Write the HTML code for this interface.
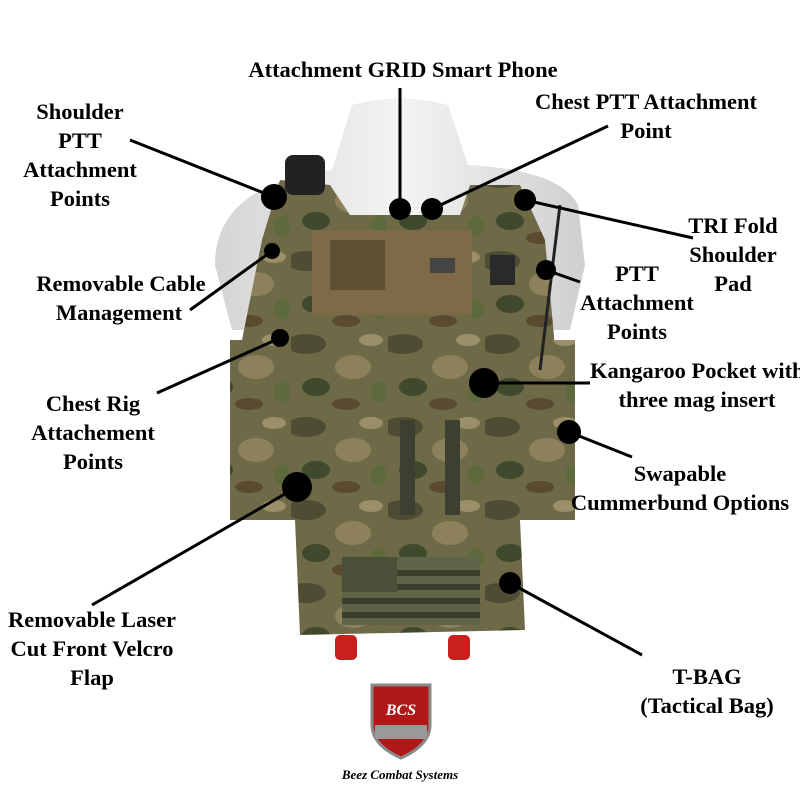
<!DOCTYPE html>
<html><head><meta charset="utf-8"><style>
body{margin:0;background:#fff;}
svg{display:block}
text{font-family:"Liberation Serif",serif;font-weight:bold;font-size:22.5px;fill:#000;text-anchor:middle}
</style></head><body>
<svg width="800" height="800" viewBox="0 0 800 800">
<defs>
<linearGradient id="m" x1="0" x2="1"><stop offset="0" stop-color="#d4d4d4"/><stop offset="0.5" stop-color="#f4f4f4"/><stop offset="1" stop-color="#cfcfcf"/></linearGradient>
<pattern id="camo" width="97" height="83" patternUnits="userSpaceOnUse">
<rect width="97" height="83" fill="#6e6a48"/>
<ellipse cx="15" cy="12" rx="20" ry="10" fill="#4e4c32"/>
<ellipse cx="62" cy="35" rx="18" ry="12" fill="#8c815a"/>
<ellipse cx="25" cy="55" rx="14" ry="9" fill="#3f4a2c"/>
<ellipse cx="80" cy="8" rx="12" ry="6" fill="#9a8f68"/>
<ellipse cx="55" cy="72" rx="14" ry="6" fill="#5a4a30"/>
<ellipse cx="88" cy="60" rx="8" ry="10" fill="#5c6a3c"/>
</pattern>
</defs>
<path d="M352 105 Q400 92 448 105 L468 165 Q560 170 578 205 L585 265 L570 330 L232 330 L215 265 Q215 185 332 170 Z" fill="url(#m)"/>
<path d="M280 180 L330 185 L350 215 L460 215 L470 185 L520 185 L545 240 L560 400 L570 510 L510 520 L300 520 L240 510 L230 400 L262 240 Z" fill="url(#camo)"/>
<rect x="230" y="340" width="345" height="180" fill="url(#camo)"/>
<path d="M295 520 L520 520 L525 630 L300 635 Z" fill="url(#camo)"/>
<rect x="312" y="230" width="160" height="85" fill="#7f6a48"/>
<rect x="330" y="240" width="55" height="50" fill="#5e4f33"/>
<rect x="430" y="258" width="25" height="15" fill="#444"/>
<rect x="342" y="557" width="138" height="68" fill="#5e6448"/>
<g fill="#3a3e2c"><rect x="342" y="570" width="138" height="6"/><rect x="342" y="584" width="138" height="6"/><rect x="342" y="598" width="138" height="6"/><rect x="342" y="612" width="138" height="6"/><rect x="342" y="557" width="55" height="35" fill="#4a5038"/></g>
<rect x="335" y="635" width="22" height="25" rx="5" fill="#c8201c"/>
<rect x="448" y="635" width="22" height="25" rx="5" fill="#c8201c"/>
<rect x="285" y="155" width="40" height="40" rx="8" fill="#222"/>
<rect x="490" y="255" width="25" height="30" fill="#2a2a2a"/>
<rect x="400" y="420" width="15" height="95" fill="#3d4030"/>
<rect x="445" y="420" width="15" height="95" fill="#3d4030"/>
<line x1="560" y1="205" x2="540" y2="370" stroke="#222" stroke-width="3"/>
<g stroke="#000" stroke-width="3" fill="none">
<line x1="130" y1="140" x2="274" y2="197"/>
<line x1="400" y1="88" x2="400" y2="209"/>
<line x1="608" y1="126" x2="432" y2="209"/>
<line x1="525" y1="200" x2="693" y2="238"/>
<line x1="546" y1="270" x2="580" y2="282"/>
<line x1="272" y1="251" x2="190" y2="310"/>
<line x1="157" y1="393" x2="280" y2="338"/>
<line x1="484" y1="383" x2="590" y2="383"/>
<line x1="569" y1="432" x2="632" y2="457"/>
<line x1="297" y1="487" x2="92" y2="605"/>
<line x1="510" y1="583" x2="642" y2="655"/>
</g>
<g fill="#000">
<circle cx="274" cy="197" r="13"/><circle cx="400" cy="209" r="11"/><circle cx="432" cy="209" r="11"/>
<circle cx="525" cy="200" r="11"/><circle cx="546" cy="270" r="10"/><circle cx="272" cy="251" r="8"/>
<circle cx="280" cy="338" r="9"/><circle cx="484" cy="383" r="15"/><circle cx="569" cy="432" r="12"/>
<circle cx="297" cy="487" r="15"/><circle cx="510" cy="583" r="11"/>
</g>
<text x="403" y="77">Attachment GRID Smart Phone</text>
<text x="80" y="119">Shoulder</text><text x="80" y="148">PTT</text><text x="80" y="177">Attachment</text><text x="80" y="206">Points</text>
<text x="646" y="109">Chest PTT Attachment</text><text x="646" y="138">Point</text>
<text x="733" y="233">TRI Fold</text><text x="733" y="262">Shoulder</text><text x="733" y="291">Pad</text>
<text x="637" y="281">PTT</text><text x="637" y="310">Attachment</text><text x="637" y="339">Points</text>
<text x="121" y="291">Removable Cable</text><text x="119" y="320">Management</text>
<text x="590" y="378" style="text-anchor:start">Kangaroo Pocket with</text><text x="697" y="407">three mag insert</text>
<text x="93" y="411">Chest Rig</text><text x="93" y="440">Attachement</text><text x="93" y="469">Points</text>
<text x="680" y="481">Swapable</text><text x="680" y="510">Cummerbund Options</text>
<text x="92" y="627">Removable Laser</text><text x="92" y="656">Cut Front Velcro</text><text x="92" y="685">Flap</text>
<text x="707" y="684">T-BAG</text><text x="707" y="713">(Tactical Bag)</text>
<path d="M372 685 L430 685 L430 725 Q430 745 401 758 Q372 745 372 725 Z" fill="#b01818" stroke="#888" stroke-width="3"/>
<rect x="375" y="725" width="52" height="14" fill="#999"/>
<text x="401" y="715" style="font-size:16px;fill:#fff;font-style:italic">BCS</text>
<text x="400" y="779" style="font-size:13px;font-style:italic">Beez Combat Systems</text>
</svg>
</body></html>
